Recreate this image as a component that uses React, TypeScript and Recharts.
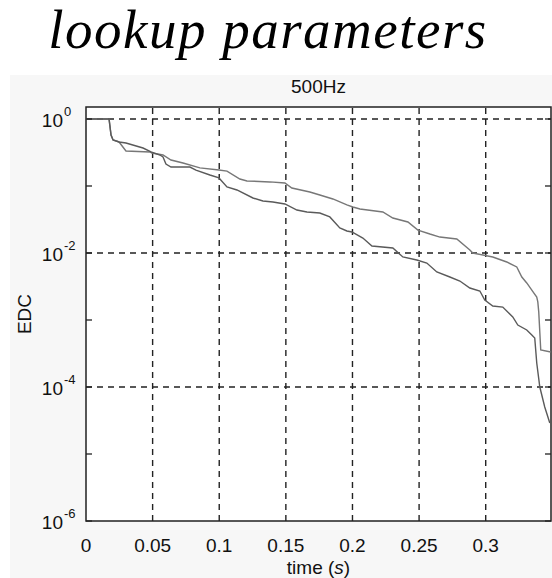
import { LineChart, Line, XAxis, YAxis, ReferenceLine, ReferenceArea } from "recharts";

// time (s) and energy decay values
const tUpper = [0, 0.0173, 0.0188, 0.0203, 0.0248, 0.03, 0.048, 0.0495, 0.0578, 0.0638, 0.0728, 0.0855, 0.0998, 0.1058, 0.1155, 0.1208, 0.138, 0.1493, 0.1545, 0.168, 0.1755, 0.1853, 0.1958, 0.2003, 0.2056, 0.2228, 0.2303, 0.2416, 0.2491, 0.2581, 0.2656, 0.2783, 0.2881, 0.2903, 0.3053, 0.3158, 0.3233, 0.3271, 0.3308, 0.3346, 0.3383, 0.3391, 0.3398, 0.3413, 0.3488];
const edcUpper = [1, 1, 0.577, 0.486, 0.454, 0.333, 0.322, 0.311, 0.29, 0.244, 0.22, 0.186, 0.173, 0.167, 0.127, 0.119, 0.115, 0.111, 0.0934, 0.0813, 0.0734, 0.064, 0.0521, 0.0486, 0.0454, 0.0409, 0.0333, 0.029, 0.022, 0.0192, 0.0173, 0.0162, 0.0111, 0.01, 0.00872, 0.00734, 0.00618, 0.00438, 0.00357, 0.0028, 0.0022, 0.00186, 0.00132, 0.000357, 0.000333];

const tLower = [0, 0.0173, 0.0188, 0.0203, 0.0248, 0.03, 0.0428, 0.0488, 0.0555, 0.0578, 0.06, 0.0638, 0.078, 0.0825, 0.093, 0.0998, 0.1058, 0.1133, 0.1253, 0.1328, 0.1403, 0.1493, 0.1583, 0.1658, 0.1755, 0.183, 0.1905, 0.1958, 0.1996, 0.2078, 0.2146, 0.2303, 0.2378, 0.2483, 0.2558, 0.2633, 0.2731, 0.2806, 0.2881, 0.2956, 0.2993, 0.3053, 0.3128, 0.3203, 0.3241, 0.3308, 0.3346, 0.3368, 0.3383, 0.3406, 0.3443, 0.3481];
const edcLower = [1, 1, 0.577, 0.486, 0.454, 0.438, 0.369, 0.322, 0.29, 0.271, 0.213, 0.192, 0.192, 0.173, 0.146, 0.132, 0.0966, 0.0872, 0.0662, 0.0597, 0.0577, 0.0539, 0.0438, 0.0409, 0.0395, 0.0345, 0.0236, 0.0213, 0.0206, 0.0167, 0.0127, 0.0119, 0.00872, 0.00786, 0.00709, 0.00521, 0.00438, 0.00382, 0.003, 0.00271, 0.00199, 0.00162, 0.00156, 0.00111, 0.000842, 0.000709, 0.000597, 0.000539, 0.000228, 0.0001, 0.0000503, 0.000029];

const xTicks = [0, 0.05, 0.1, 0.15, 0.2, 0.25, 0.3];
const xGrid = [0.05, 0.1, 0.15, 0.2, 0.25, 0.3];
const yDecades = [1, 1e-1, 1e-2, 1e-3, 1e-4, 1e-5, 1e-6];
const yGrid = [1, 1e-2, 1e-4];

const T_MAX = 0.349;
const Y_MIN = 1e-6;
const Y_MAX = 1.51;

const upper = tUpper.map((t, i) => ({ t, v: edcUpper[i] }));
const lower = tLower.map((t, i) => ({ t, v: edcLower[i] }));

const font = "'Liberation Sans', Arial, sans-serif";
const grey = "#222";

const LeftTick = ({ x, y, payload }: any) => {
    const e = Math.round(Math.log10(payload.value));
    return (
        <g>
            <line x1={x} x2={x + 6} y1={y} y2={y} stroke={grey} strokeWidth={1.3} />
            {e % 2 === 0 && (
                <>
                    <text x={x - 23} y={y + 8} textAnchor="end" fontSize={19} fontFamily={font} fill="#111">10</text>
                    <text x={x - 22} y={y - 3} textAnchor="start" fontSize={13} fontFamily={font} fill="#111">{e}</text>
                </>
            )}
        </g>
    );
};

const RightTick = ({ x, y }: any) => (
    <line x1={x - 6} x2={x} y1={y} y2={y} stroke={grey} strokeWidth={1.3} />
);

const BottomTick = ({ x, y, payload }: any) => (
    <text x={x} y={y + 31} textAnchor="middle" fontSize={19} fontFamily={font} fill="#111">
        {payload.value}
    </text>
);

export default function App() {
    return (
        <div style={{ position: "absolute", left: 0, top: 0, width: 552, height: 578, background: "#fff", overflow: "hidden" }}>
            <div style={{ position: "absolute", left: 10, top: 75, width: 542, height: 503, background: "#f7f7f7" }} />
            <div style={{ position: "absolute", left: 86, top: 107, width: 465, height: 414, background: "#fff" }} />
            <div
                style={{
                    position: "absolute", left: 0, top: 0, width: 536, textAlign: "center",
                    fontFamily: "'Liberation Serif', 'Times New Roman', serif", fontStyle: "italic",
                    fontSize: 55, letterSpacing: 1.5, lineHeight: "60px", color: "#000", whiteSpace: "nowrap",
                }}
            >
                lookup parameters
            </div>
            <div style={{ position: "absolute", left: 86, top: 76, width: 465, textAlign: "center", fontFamily: font, fontSize: 19, lineHeight: "22px", color: "#111" }}>
                500Hz
            </div>
            <div style={{ position: "absolute", left: 86, top: 559, width: 465, textAlign: "center", fontFamily: font, fontSize: 19, lineHeight: "18px", color: "#111" }}>
                time (<i>s</i>)
            </div>
            <div
                style={{
                    position: "absolute", left: 25, top: 314, transform: "translate(-50%, -50%) rotate(-90deg)",
                    fontFamily: font, fontSize: 19, lineHeight: "22px", color: "#111", whiteSpace: "nowrap",
                }}
            >
                EDC
            </div>
            <div style={{ position: "absolute", left: 0, top: 0 }}>
                <LineChart width={552} height={578} margin={{ top: 107, right: 0, bottom: 0, left: 0 }}>
                    <XAxis
                        type="number"
                        dataKey="t"
                        domain={[0, T_MAX]}
                        ticks={xTicks}
                        allowDataOverflow
                        height={57}
                        tickSize={0}
                        tickMargin={0}
                        tickLine={false}
                        axisLine={false}
                        tick={BottomTick}
                        interval={0}
                    />
                    <YAxis
                        yAxisId="l"
                        scale="log"
                        domain={[Y_MIN, Y_MAX]}
                        ticks={yDecades}
                        allowDataOverflow
                        width={86}
                        tickSize={0}
                        tickMargin={0}
                        tickLine={false}
                        axisLine={false}
                        tick={LeftTick}
                        interval={0}
                    />
                    <YAxis
                        yAxisId="r"
                        orientation="right"
                        scale="log"
                        domain={[Y_MIN, Y_MAX]}
                        ticks={yDecades}
                        allowDataOverflow
                        width={1}
                        tickSize={0}
                        tickMargin={0}
                        tickLine={false}
                        axisLine={false}
                        tick={RightTick}
                        interval={0}
                    />
                    {xGrid.map((g) => (
                        <ReferenceLine key={"x" + g} x={g} yAxisId="l" stroke={grey} strokeWidth={1.4} strokeDasharray="6 5" />
                    ))}
                    {yGrid.map((g) => (
                        <ReferenceLine key={"y" + g} y={g} yAxisId="l" stroke={grey} strokeWidth={1.4} strokeDasharray="6 5" />
                    ))}
                    <ReferenceArea x1={0} x2={T_MAX} y1={Y_MIN} y2={Y_MAX} yAxisId="l" stroke={grey} strokeWidth={1.5} fill="none" fillOpacity={0} />
                    <Line data={upper} yAxisId="l" dataKey="v" type="linear" stroke="#777" strokeWidth={1.4} dot={false} isAnimationActive={false} />
                    <Line data={lower} yAxisId="l" dataKey="v" type="linear" stroke="#5a5a5a" strokeWidth={1.4} dot={false} isAnimationActive={false} />
                </LineChart>
            </div>
        </div>
    );
}
